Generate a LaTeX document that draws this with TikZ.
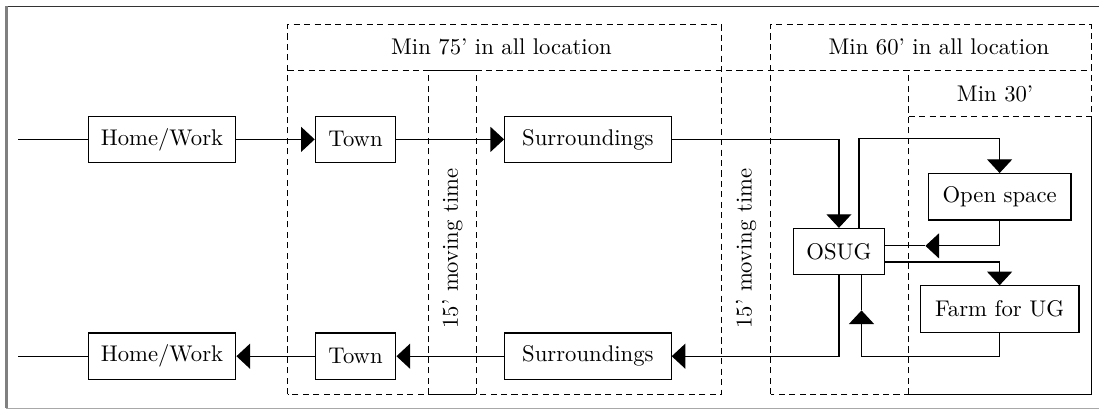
\documentclass[tikz,border=0pt]{standalone}
\usepackage{tikz}
\usetikzlibrary{arrows.meta}
\definecolor{framedark}{HTML}{333333}
\definecolor{framegray}{HTML}{808080}
\definecolor{framelight}{HTML}{A8A8A8}

\begin{document}
\begin{tikzpicture}[
    box/.style={
        draw,
        line width=0.5pt,
        minimum height=0.72cm,
        inner sep=2pt
    },
    zone/.style={
        draw,
        line width=0.4pt,
        dash pattern=on 2.7pt off 1.9pt
    },
    link/.style={line width=0.5pt},
    arr/.style={
        link,
        -{Triangle[length=6pt,width=11pt]}
    }
]

\useasboundingbox (0,0) rectangle (17.03,6.36);

% ============================================================
% Outer frame
% ============================================================

\draw[framedark, line width=0.8pt] (0.10,6.26) -- (17.03,6.26);
\draw[framegray, line width=1.2pt] (0.10,6.26) -- (0.10,0.03);
\draw[framelight, line width=0.8pt] (0.10,0.03) -- (17.03,0.03);

% ============================================================
% Time zones
% ============================================================

\draw[zone] (4.46,0.25) rectangle (11.18,5.98);
\draw[zone] (11.94,0.25) rectangle (16.91,5.98);
\draw[zone] (4.46,5.27) -- (16.91,5.27);

% moving strip between town and surroundings
\draw[zone] (6.64,0.25) -- (6.64,5.27) (7.38,0.25) -- (7.38,5.27);
\draw[line width=0.4pt] (6.64,5.27) -- (7.38,5.27) (6.64,0.25) -- (7.38,0.25);

% inner 30 min zone
\draw[zone] (14.08,0.25) -- (14.08,5.27) (14.08,4.56) -- (16.91,4.56);
\draw[line width=0.4pt] (14.08,0.25) -- (16.91,0.25) -- (16.91,4.56);

\node (t75) at (7.77,5.63) {Min 75' in all location};
\node (t60) at (14.55,5.63) {Min 60' in all location};
\node (t30) at (15.42,4.91) {Min 30'};

\node[rotate=90] (move1) at (7.01,2.51) {15' moving time};
\node[rotate=90] (move2) at (11.56,2.51) {15' moving time};

% ============================================================
% Places
% ============================================================

\node[box, minimum width=2.29cm] (home1) at (2.51,4.20) {Home/Work};
\node[box, minimum width=1.25cm] (town1) at (5.51,4.20) {Town};
\node[box, minimum width=2.58cm] (surr1) at (9.11,4.20) {Surroundings};

\node[box, minimum width=2.29cm] (home2) at (2.51,0.84) {Home/Work};
\node[box, minimum width=1.25cm] (town2) at (5.51,0.84) {Town};
\node[box, minimum width=2.58cm] (surr2) at (9.11,0.84) {Surroundings};

\node[box, minimum width=1.40cm] (osug) at (13.00,2.46) {OSUG};
\node[box, minimum width=2.21cm] (open) at (15.49,3.31) {Open space};
\node[box, minimum width=2.46cm] (farm) at (15.49,1.57) {Farm for UG};

% ============================================================
% Way out
% ============================================================

\coordinate (in1) at (0.28,4.20);
\draw[link] (in1) -- (home1);
\draw[arr] (home1) -- (town1);
\draw[arr] (town1) -- (surr1);
\draw[arr] (surr1.east) -| (osug.north);

% ============================================================
% Inside the green area
% ============================================================

\draw[arr] ([xshift=3.1mm]osug.north) -- ++(0,1.38) -| (open.north);

\coordinate (back1) at (14.34,2.55);
\draw[arr] (open.south) |- (back1);
\draw[link] (back1) -- (back1 -| osug.east);

\draw[arr] ([yshift=-1.6mm]osug.east) -| (farm.north);

\coordinate (back2) at (13.35,1.55);
\draw[arr] (farm.south) |- (back2 |- surr2) -- (back2);
\draw[link] (back2) -- (back2 |- osug.south);

% ============================================================
% Way back
% ============================================================

\draw[arr] (osug.south) |- (surr2.east);
\draw[arr] (surr2) -- (town2);
\draw[arr] (town2) -- (home2);

\coordinate (in2) at (0.28,0.84);
\draw[link] (in2) -- (home2);

\end{tikzpicture}
\end{document}
